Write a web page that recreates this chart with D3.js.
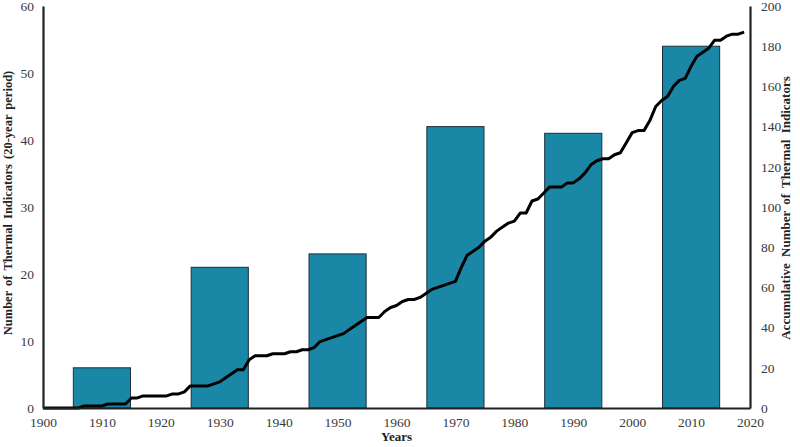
<!DOCTYPE html>
<html>
<head>
<meta charset="utf-8">
<script src="https://cdn.jsdelivr.net/npm/d3@7"></script>
<style>
  body { margin: 0; background: #fff; }
  text { font-family: "Liberation Serif", "Times New Roman", serif; }
</style>
</head>
<body>
<div id="chart"></div>
<script>
// 20-year period counts (bars centred on decade)
var barYears = [1910, 1930, 1950, 1970, 1990, 2010]
var barValues = [6, 21, 23, 42, 41, 54]

// accumulative count per year
var lineYears = d3.range(1900, 2020)
var lineValues = [0,0,0,0,0,0,0,1,1,1, 1,2,2,2,2,5,5,6,6,6,
  6,6,7,7,8,11,11,11,11,12, 13,15,17,19,19,24,26,26,26,27,
  27,27,28,28,29,29,30,33,34,35, 36,37,39,41,43,45,45,45,48,50,
  51,53,54,54,55,57,59,60,61,62, 63,70,76,78,80,83,85,88,90,92,
  93,97,97,103,104,107,110,110,110,112, 112,114,117,121,123,124,124,126,127,132,
  137,138,138,143,150,153,155,160,163,164, 170,175,177,179,183,183,185,186,186,187]

var xTicks = d3.range(1900, 2021, 10)
var leftTicks = d3.range(0, 61, 10)
var rightTicks = d3.range(0, 201, 20)

var width = 800
    height = 447
    margin = {left: 43, right: 50, top: 6, bottom: 39}

var svg = d3.select("#chart")
  .append("svg")
    .attr("width", width)
    .attr("height", height)

var x = d3.scaleLinear().domain([1900, 2020]).range([margin.left, width - margin.right])
var yL = d3.scaleLinear().domain([0, 60]).range([height - margin.bottom, margin.top])
var yR = d3.scaleLinear().domain([0, 200]).range([height - margin.bottom, margin.top])

// bars
svg.selectAll("rect.bar")
  .data(barYears)
  .enter()
  .append("rect")
    .attr("class", "bar")
    .attr("x", function(d) { return x(d - 4.85) })
    .attr("width", function(d) { return x(d + 4.85) - x(d - 4.85) })
    .attr("y", function(d, i) { return yL(barValues[i]) })
    .attr("height", function(d, i) { return yL(0) - yL(barValues[i]) })
    .attr("fill", "#1b87a6")
    .attr("stroke", "#1d2f3c")
    .attr("stroke-width", 1)

// cumulative line
var line = d3.line()
  .x(function(d) { return x(d) })
  .y(function(d, i) { return yR(lineValues[i]) })

svg.append("path")
  .datum(lineYears)
  .attr("d", line)
  .attr("fill", "none")
  .attr("stroke", "#000")
  .attr("stroke-width", 3)
  .attr("stroke-linejoin", "round")

// axes
var bottom = svg.append("g")
  .attr("transform", "translate(0," + yL(0) + ")")
  .call(d3.axisBottom(x).tickValues(xTicks).tickFormat(d3.format("d")).tickSize(0).tickPadding(9))
var left = svg.append("g")
  .attr("transform", "translate(" + margin.left + ",0)")
  .call(d3.axisLeft(yL).tickValues(leftTicks).tickSize(0).tickPadding(9))
var right = svg.append("g")
  .attr("transform", "translate(" + (width - margin.right) + ",0)")
  .call(d3.axisRight(yR).tickValues(rightTicks).tickSize(0).tickPadding(11))

;[bottom, left, right].forEach(function(g) {
  g.selectAll(".domain").attr("stroke", "#222").attr("stroke-width", 2.2)
  g.selectAll("text").attr("font-size", 13.5).attr("fill", "#3a3a3a")
    .style("font-family", "'Liberation Serif', serif")
})

// titles
svg.append("text")
  .attr("x", (margin.left + width - margin.right) / 2)
  .attr("y", 441)
  .attr("text-anchor", "middle")
  .attr("font-size", 13)
  .attr("font-weight", "bold")
  .attr("fill", "#222")
  .text("Years")

svg.append("text")
  .attr("transform", "translate(12," + 203 + ") rotate(-90)")
  .attr("text-anchor", "middle")
  .attr("font-size", 12.5)
  .attr("font-weight", "bold")
  .attr("fill", "#222")
  .attr("word-spacing", 2)
  .text("Number  of Thermal Indicators (20-year period)")

svg.append("text")
  .attr("transform", "translate(790," + 208 + ") rotate(-90)")
  .attr("text-anchor", "middle")
  .attr("font-size", 13)
  .attr("font-weight", "bold")
  .attr("fill", "#222")
  .attr("word-spacing", 3)
  .text("Accumulative Number of Thermal Indicators")
</script>
</body>
</html>
